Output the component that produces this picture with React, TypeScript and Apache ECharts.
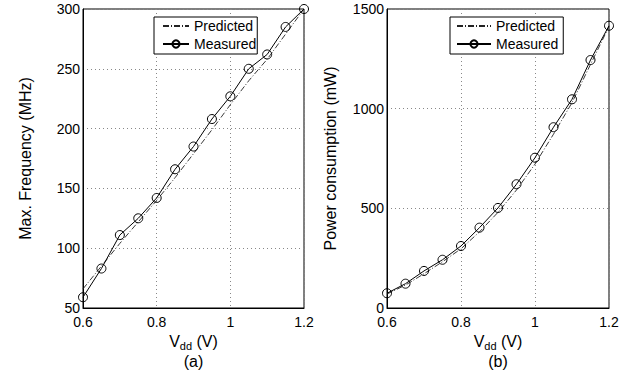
import React, { useEffect, useRef } from "react";
import * as echarts from "echarts";

const vdd = [0.6, 0.65, 0.7, 0.75, 0.8, 0.85, 0.9, 0.95, 1.0, 1.05, 1.1, 1.15, 1.2];
const freqPredicted = [66, 85, 104, 122, 140, 159, 179, 199, 220, 240, 258, 279, 300];
const freqMeasured = [59, 83, 111, 125, 142, 166, 185, 208, 227, 250, 262, 285, 300];
const powerPredicted = [70, 115, 172, 232, 297, 382, 480, 592, 722, 872, 1030, 1222, 1412];
const powerMeasured = [74, 122, 186, 242, 311, 403, 502, 621, 754, 907, 1047, 1244, 1416];
const seriesNames = ["Predicted", "Measured"];
const panelLabels = ["(a)", "(b)"];
const yNames = ["Max. Frequency (MHz)", "Power consumption (mW)"];

const FONT = "'Liberation Sans', Arial, Helvetica, sans-serif";

export default function App() {
  const ref = useRef<HTMLDivElement>(null);
  useEffect(() => {
    if (!ref.current) return;
    const chart = echarts.init(ref.current, undefined, { renderer: "svg" });
    const pair = (ys: number[]) => vdd.map((x, i) => [x, ys[i]]);
    const xAxisBase = (gi: number) => ({
      type: "value",
      gridIndex: gi,
      min: 0.6,
      max: 1.2,
      interval: 0.2,
      name: `{v|V}{s|dd}{v| (V)}\n{p|${panelLabels[gi]}}`,
      nameLocation: "middle",
      nameGap: 20,
      nameTextStyle: {
        color: "#000",
        fontFamily: FONT,
        rich: {
          v: { fontSize: 16, fontFamily: FONT, color: "#000", lineHeight: 18, verticalAlign: "top" },
          s: { fontSize: 11, fontFamily: FONT, color: "#000", lineHeight: 11, padding: [7, 0, 0, 0], verticalAlign: "top" },
          p: { fontSize: 16, fontFamily: FONT, color: "#000", lineHeight: 20 },
        },
      },
      axisLine: { show: true, lineStyle: { color: "#000", width: 1 } },
      axisTick: { show: false },
      axisLabel: {
        color: "#000",
        fontSize: 14,
        fontFamily: FONT,
        lineHeight: 12,
        margin: 8,
        formatter: (v: number) => String(+v.toFixed(1)),
      },
      splitLine: { show: true, lineStyle: { color: "#888", type: [1, 3], width: 1 } },
    });
    const yAxisBase = (gi: number, min: number, max: number, interval: number) => ({
      type: "value",
      gridIndex: gi,
      min,
      max,
      interval,
      name: yNames[gi],
      nameLocation: "middle",
      nameGap: gi === 0 ? 50 : 49,
      nameTextStyle: { color: "#000", fontSize: 16, fontFamily: FONT },
      axisLine: { show: true, lineStyle: { color: "#000", width: 1 } },
      axisTick: { show: false },
      axisLabel: { color: "#000", fontSize: 14, fontFamily: FONT, lineHeight: 12, margin: 3, formatter: (v: number) => String(v) },
      splitLine: { show: true, lineStyle: { color: "#888", type: [1, 3], width: 1 } },
    });
    const predStyle = { color: "#222", width: 0.9, type: [6, 2, 1, 2] };
    const measStyle = { color: "#000", width: 1 };
    const legendBase = {
      orient: "vertical",
      top: 17,
      backgroundColor: "#fff",
      borderColor: "#000",
      borderWidth: 1,
      itemHeight: 9,
      itemGap: 4,
      textStyle: { color: "#000", fontSize: 14, fontFamily: FONT, lineHeight: 14 },
      data: [
        { name: seriesNames[0], itemStyle: { opacity: 0 } },
        { name: seriesNames[1] },
      ],
    };
    chart.setOption({
      animation: false,
      backgroundColor: "#fff",
      grid: [
        { left: 83, top: 9, width: 221, height: 299, show: true, borderColor: "#000", borderWidth: 1, backgroundColor: "transparent" },
        { left: 387, top: 9, width: 222, height: 299, show: true, borderColor: "#000", borderWidth: 1, backgroundColor: "transparent" },
      ],
      legend: [
        { ...legendBase, left: 154, itemWidth: 26, padding: [2, 1, 3, 8] },
        { ...legendBase, left: 450, itemWidth: 34, padding: [2, 5, 3, 6] },
      ],
      xAxis: [xAxisBase(0), xAxisBase(1)],
      yAxis: [yAxisBase(0, 50, 300, 50), yAxisBase(1, 0, 1500, 500)],
      series: [
        {
          name: seriesNames[0], type: "line", xAxisIndex: 0, yAxisIndex: 0,
          data: pair(freqPredicted), symbol: "none", lineStyle: predStyle, itemStyle: { color: "#222" }, z: 2,
        },
        {
          name: seriesNames[1], type: "line", xAxisIndex: 0, yAxisIndex: 0,
          data: pair(freqMeasured), symbol: "circle", symbolSize: 9, lineStyle: measStyle,
          itemStyle: { color: "rgba(255,255,255,0)", borderColor: "#000", borderWidth: 1 }, z: 3,
        },
        {
          name: seriesNames[0], type: "line", xAxisIndex: 1, yAxisIndex: 1,
          data: pair(powerPredicted), symbol: "none", lineStyle: predStyle, itemStyle: { color: "#222" }, z: 2,
        },
        {
          name: seriesNames[1], type: "line", xAxisIndex: 1, yAxisIndex: 1,
          data: pair(powerMeasured), symbol: "circle", symbolSize: 9, lineStyle: measStyle,
          itemStyle: { color: "rgba(255,255,255,0)", borderColor: "#000", borderWidth: 1 }, z: 3,
        },
      ],
    });
    return () => chart.dispose();
  }, []);
  return <div ref={ref} style={{ position: "fixed", left: 0, top: 0, width: 630, height: 375 }} />;
}
